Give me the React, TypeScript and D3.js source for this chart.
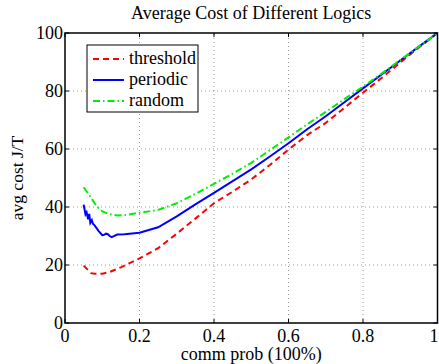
import React, { useEffect, useRef } from 'react';
import * as d3 from 'd3';

// threshold logic
const thresholdX = [0.05, 0.06, 0.07, 0.08, 0.09, 0.1, 0.12, 0.15, 0.2, 0.25, 0.3, 0.35, 0.4, 0.45, 0.5, 0.55, 0.6, 0.65, 0.7, 0.75, 0.8, 0.85, 0.9, 0.95, 1.0];
const thresholdY = [19.8, 18.5, 17.2, 17.0, 16.9, 17.0, 17.6, 19.2, 22.3, 25.8, 30.8, 36.0, 41.3, 45.3, 49.5, 54.5, 59.8, 64.8, 69.0, 74.2, 79.4, 84.5, 89.8, 95.0, 100];

// periodic logic (noisy at low prob)
const periodicX = [0.05, 0.055, 0.058, 0.062, 0.065, 0.068, 0.072, 0.075, 0.08, 0.09, 0.1, 0.105, 0.11, 0.115, 0.12, 0.125, 0.13, 0.14, 0.16, 0.2, 0.25, 0.3, 0.35, 0.4, 0.45, 0.5, 0.55, 0.6, 0.65, 0.7, 0.75, 0.8, 0.85, 0.9, 0.95, 1.0];
const periodicY = [40.8, 37.5, 38.2, 35.8, 37.6, 34.5, 35.5, 34.2, 33.6, 31.8, 30.3, 30.4, 30.8, 30.6, 30.0, 29.6, 29.9, 30.5, 30.6, 31.1, 33.0, 36.8, 40.9, 44.9, 48.9, 53.0, 57.4, 62.0, 66.8, 71.3, 76.1, 80.9, 85.7, 90.5, 95.3, 100];

// random logic
const randomX = [0.05, 0.06, 0.07, 0.08, 0.09, 0.1, 0.12, 0.14, 0.16, 0.2, 0.25, 0.3, 0.35, 0.4, 0.45, 0.5, 0.55, 0.6, 0.65, 0.7, 0.75, 0.8, 0.85, 0.9, 0.95, 1.0];
const randomY = [46.8, 45.0, 43.2, 41.2, 39.6, 38.5, 37.5, 37.1, 37.2, 38.0, 39.0, 41.3, 44.5, 48.0, 51.5, 55.2, 59.6, 64.0, 68.5, 72.8, 77.2, 81.5, 86.0, 90.7, 95.3, 100];

const xTicks = [0, 0.2, 0.4, 0.6, 0.8, 1];
const yTicks = [0, 20, 40, 60, 80, 100];

const seriesNames = ['threshold', 'periodic', 'random'];

const App = () => {
    const ref = useRef<SVGSVGElement>(null);

    useEffect(() => {
        const width = 439, height = 364;
        const m = { left: 65, right: 1.5, top: 33, bottom: 41 };
        const font = "'Liberation Serif', 'Times New Roman', serif";

        const svg = d3.select(ref.current);
        svg.selectAll('*').remove();

        const x = d3.scaleLinear().domain([0, 1]).range([m.left, width - m.right]);
        const y = d3.scaleLinear().domain([0, 100]).range([height - m.bottom, m.top]);

        // grid
        const grid = svg.append('g').attr('stroke', '#555').attr('stroke-width', 0.6).attr('stroke-dasharray', '1,3');
        xTicks.slice(1, -1).forEach(t => {
            grid.append('line').attr('x1', x(t)).attr('x2', x(t)).attr('y1', y(0)).attr('y2', y(100));
        });
        yTicks.slice(1, -1).forEach(t => {
            grid.append('line').attr('x1', x(0)).attr('x2', x(1)).attr('y1', y(t)).attr('y2', y(t));
        });

        // series
        const series = [
            { name: seriesNames[0], xs: thresholdX, ys: thresholdY, color: '#ff0000', dash: '6,4' },
            { name: seriesNames[1], xs: periodicX, ys: periodicY, color: '#0000ff', dash: null },
            { name: seriesNames[2], xs: randomX, ys: randomY, color: '#00ee00', dash: '7,3,1.5,3' },
        ];
        series.forEach(s => {
            const pts = s.xs.map((v, i) => [x(v), y(s.ys[i])] as [number, number]);
            svg.append('path')
                .attr('d', d3.line()(pts))
                .attr('fill', 'none')
                .attr('stroke', s.color)
                .attr('stroke-width', 2)
                .attr('stroke-dasharray', s.dash);
        });

        // box + ticks
        svg.append('rect')
            .attr('x', x(0)).attr('y', y(100))
            .attr('width', x(1) - x(0)).attr('height', y(0) - y(100))
            .attr('fill', 'none').attr('stroke', '#000').attr('stroke-width', 1.5);
        const ticks = svg.append('g').attr('stroke', '#000').attr('stroke-width', 1);
        xTicks.forEach(t => {
            ticks.append('line').attr('x1', x(t)).attr('x2', x(t)).attr('y1', y(0)).attr('y2', y(0) - 4);
            ticks.append('line').attr('x1', x(t)).attr('x2', x(t)).attr('y1', y(100)).attr('y2', y(100) + 4);
        });
        yTicks.forEach(t => {
            ticks.append('line').attr('x1', x(0)).attr('x2', x(0) + 4).attr('y1', y(t)).attr('y2', y(t));
            ticks.append('line').attr('x1', x(1)).attr('x2', x(1) - 4).attr('y1', y(t)).attr('y2', y(t));
        });

        // tick labels
        svg.append('g').selectAll('text').data(xTicks).join('text')
            .attr('x', d => Math.min(x(d), width - 5)).attr('y', y(0) + 19)
            .attr('text-anchor', 'middle')
            .attr('font-family', font).attr('font-size', 18)
            .text(d => d3.format('~g')(d));
        svg.append('g').selectAll('text').data(yTicks).join('text')
            .attr('x', x(0) - 2).attr('y', d => y(d) + 6)
            .attr('text-anchor', 'end')
            .attr('font-family', font).attr('font-size', 18)
            .text(d => d);

        // title and axis labels
        svg.append('text')
            .attr('x', (x(0) + x(1)) / 2).attr('y', 19)
            .attr('text-anchor', 'middle')
            .attr('font-family', font).attr('font-size', 18)
            .text('Average Cost of Different Logics');
        svg.append('text')
            .attr('x', (x(0) + x(1)) / 2).attr('y', 360)
            .attr('text-anchor', 'middle')
            .attr('font-family', font).attr('font-size', 18)
            .text('comm prob (100%)');
        svg.append('text')
            .attr('transform', `translate(23,${(y(0) + y(100)) / 2}) rotate(-90)`)
            .attr('text-anchor', 'middle')
            .attr('font-family', font).attr('font-size', 17.5)
            .text('avg cost J/T');

        // legend
        const lg = svg.append('g').attr('transform', 'translate(87,45)');
        lg.append('rect').attr('width', 111).attr('height', 67)
            .attr('fill', '#fff').attr('stroke', '#000').attr('stroke-width', 1);
        series.forEach((s, i) => {
            const ly = 14 + i * 21;
            lg.append('line').attr('x1', 6).attr('x2', 37).attr('y1', ly).attr('y2', ly)
                .attr('stroke', s.color).attr('stroke-width', 2).attr('stroke-dasharray', s.dash);
            lg.append('text').attr('x', 42).attr('y', ly + 5)
                .attr('font-family', font).attr('font-size', 18)
                .text(s.name);
        });
    }, []);

    return (
        <svg ref={ref} width={439} height={364}
            style={{ position: 'absolute', left: 0, top: 0, background: '#fff' }} />
    );
};

export default App;
